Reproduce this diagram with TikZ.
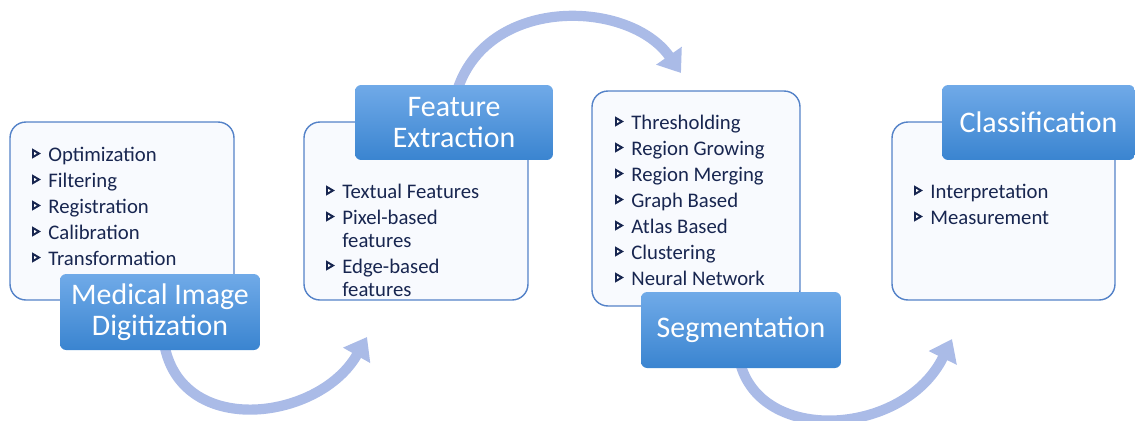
\documentclass[tikz,border=0pt]{standalone}
\usepackage{fontspec}
\setmainfont{Carlito}
\usepackage{tikz}
\usetikzlibrary{arrows.meta}
\definecolor{boxline}{RGB}{84,130,200}
\definecolor{boxfill}{RGB}{248,250,254}
\definecolor{titletop}{RGB}{112,170,232}
\definecolor{titlebot}{RGB}{58,132,208}
\definecolor{flowc}{RGB}{170,187,231}
\definecolor{txt}{RGB}{24,38,80}

\begin{document}
\begin{tikzpicture}[x=0.02cm,y=-0.02cm,
		box/.style={draw=boxline,fill=boxfill,line width=0.8pt,rounded corners=9pt,inner sep=0pt},
		title/.style={top color=titletop,bottom color=titlebot,draw=none,rounded corners=3.5pt,
			text=white,align=center,inner sep=0pt,font=\fontsize{17}{17.6}\selectfont},
		item/.style={anchor=base west,inner sep=0pt,text=txt,font=\fontsize{11.8}{13}\selectfont},
		bul/.style={draw=txt,fill=white,line width=1.1pt,line join=miter},
		flow/.style={draw=flowc,line width=5.8pt,-{Triangle[width=17pt,length=12pt]}}]
		\useasboundingbox (0,0) rectangle (1135,420);
		
		% arrow ends
		\coordinate (a1) at (367,337);
		\coordinate (a2) at (681,73);
		\coordinate (a3) at (952,339);
		
		% containers
		\node[box,minimum width=4.48cm,minimum height=3.56cm] (dig) at (122,211) {};
		\node[box,minimum width=4.48cm,minimum height=3.56cm] (fea) at (416,211) {};
		\node[box,minimum width=4.16cm,minimum height=4.3cm] (seg) at (696,198.5) {};
		\node[box,minimum width=4.46cm,minimum height=3.56cm] (cla) at (1003.5,211) {};
		
		% flow arrows (behind titles)
		\path[flow] (165,348) .. controls (185,438) and (320,420) .. (a1);
		\path[flow] (741,366) .. controls (765,445) and (905,435) .. (a3);
		\path[flow] (458,88) .. controls (490,-5) and (630,0) .. (a2);
		
		% titles
		\node[title,minimum width=4.0cm,minimum height=1.52cm] (digT) at (160,312) {Medical Image\\Digitization};
		\node[title,minimum width=3.96cm,minimum height=1.5cm] (feaT) at (454,122.5) {Feature\\Extraction};
		\node[title,minimum width=4.0cm,minimum height=1.52cm] (segT) at (741,330) {Segmentation};
		\node[title,minimum width=3.86cm,minimum height=1.5cm] (claT) at (1038.5,122.5) {Classification};
		
		% lists
		\foreach \t [count=\i] in {Optimization,Filtering,Registration,Calibration,Transformation}{
			\node[item] (dig\i) at (48,135+26*\i) {\t};
			\draw[bul] (33,124+26*\i) -- (39,127.5+26*\i) -- (33,131+26*\i) -- cycle;
		}
		
		\node[item] (fea1) at (342,198) {Textual Features};
		\node[item] (fea2) at (342,224) {Pixel-based};
		\node[item] (fea2b) at (342,247) {features};
		\node[item] (fea3) at (342,273) {Edge-based};
		\node[item] (fea3b) at (342,296) {features};
		\foreach \b in {198,224,273}
			\draw[bul] (327,\b-11) -- (333,\b-7.5) -- (327,\b-4) -- cycle;
		
		\foreach \t [count=\i] in {Thresholding,Region Growing,Region Merging,Graph Based,Atlas Based,Clustering,Neural Network}{
			\node[item] (seg\i) at (631,103+26*\i) {\t};
			\draw[bul] (616,92+26*\i) -- (622,95.5+26*\i) -- (616,99+26*\i) -- cycle;
		}
		
		\foreach \t [count=\i] in {Interpretation,Measurement}{
			\node[item] (cla\i) at (930,172+26*\i) {\t};
			\draw[bul] (915,161+26*\i) -- (921,164.5+26*\i) -- (915,168+26*\i) -- cycle;
		}
\end{tikzpicture}
\end{document}
